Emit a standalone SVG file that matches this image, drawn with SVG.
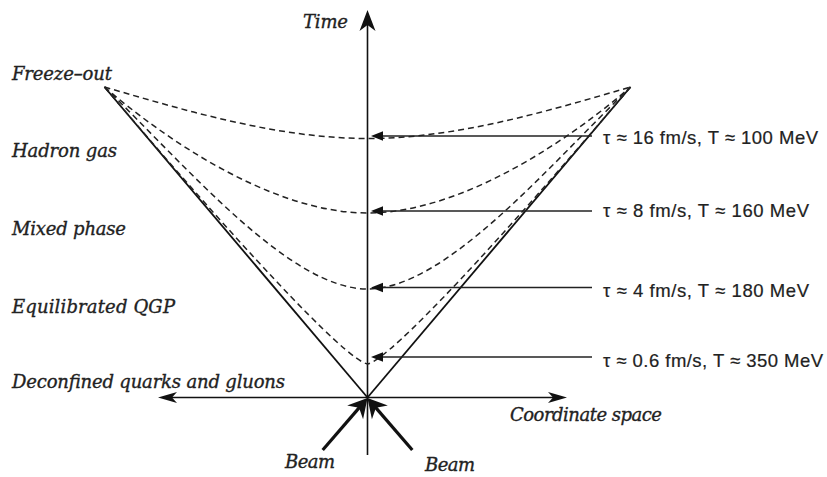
<svg xmlns="http://www.w3.org/2000/svg" width="827" height="477" viewBox="0 0 827 477">
<style>
.lbl{font-family:"DejaVu Serif","Liberation Serif",serif;font-style:italic;font-size:18px;fill:#222;stroke:#222;stroke-width:0.35}
.val{font-family:"Liberation Sans",Arial,sans-serif;font-size:18.5px;fill:#222;stroke:#222;stroke-width:0.2}
.ax{stroke:#111;stroke-width:1.6;fill:none}
.cone{stroke:#111;stroke-width:1.8;fill:none}
.dash{stroke:#222;stroke-width:1.5;fill:none;stroke-dasharray:6 4}
.tau{stroke:#222;stroke-width:1.6;fill:none;marker-end:url(#tri)}
.beam{stroke:#111;stroke-width:3.2;fill:none;marker-end:url(#bh)}
</style>
<defs>
<marker id="tri" markerUnits="userSpaceOnUse" orient="auto" markerWidth="30" markerHeight="30" refX="0" refY="0" viewBox="-15 -15 30 30" overflow="visible">
<path d="M7,0 L-5,-4.8 L-5,4.8 Z" fill="#111"/>
</marker>
<marker id="vh" markerUnits="userSpaceOnUse" orient="auto" markerWidth="40" markerHeight="40" refX="0" refY="0" viewBox="-20 -20 40 40" overflow="visible">
<path d="M14,0 L-7,-8 L-1,0 L-7,8 Z" fill="#111"/>
</marker>
<marker id="hh" markerUnits="userSpaceOnUse" orient="auto-start-reverse" markerWidth="40" markerHeight="40" refX="0" refY="0" viewBox="-20 -20 40 40" overflow="visible">
<path d="M12,0 L-7,-5.5 L-2,0 L-7,5.5 Z" fill="#111"/>
</marker>
<marker id="bh" markerUnits="userSpaceOnUse" orient="auto" markerWidth="50" markerHeight="50" refX="0" refY="0" viewBox="-25 -25 50 50" overflow="visible">
<path d="M10,0 L-9,-10.5 L-3,0 L-9,10.5 Z" fill="#111"/>
</marker>
</defs>
<rect width="827" height="477" fill="#fff"/>
<g id="connectors">
<line class="ax" x1="367.5" y1="455" x2="367.5" y2="24" marker-end="url(#vh)"/>
<line class="ax" x1="170" y1="397.5" x2="555" y2="397.5" marker-start="url(#hh)" marker-end="url(#hh)"/>
<line class="cone" x1="104.5" y1="87" x2="367.5" y2="397.5"/>
<line class="cone" x1="630.5" y1="87" x2="367.5" y2="397.5"/>
<path class="dash" d="M104.5,87 C190,112 280,138.5 367.5,138.5 C455,138.5 545,112 630.5,87"/>
<path class="dash" d="M104.5,87 C160,135 270,213 367.5,213 C465,213 575,135 630.5,87"/>
<path class="dash" d="M104.5,87 C190,170 290,289 367.5,289 C445,289 545,170 630.5,87"/>
<path class="dash" d="M104.5,87 C230,235 345,360 367.5,364 C390,360 505,235 630.5,87"/>
<line class="tau" x1="592" y1="136" x2="378" y2="136"/>
<line class="tau" x1="592" y1="211" x2="378" y2="211"/>
<line class="tau" x1="592" y1="287.5" x2="378" y2="287.5"/>
<line class="tau" x1="592" y1="357" x2="378" y2="357"/>
<line class="beam" x1="322.7" y1="450" x2="361" y2="405.6"/>
<line class="beam" x1="412.3" y1="450" x2="374" y2="405.6"/>
</g>
<g id="time"><text class="lbl" x="303" y="28" textLength="45">Time</text></g>
<g id="freeze-out"><text class="lbl" x="12" y="80" textLength="100">Freeze–out</text></g>
<g id="hadron-gas"><text class="lbl" x="12" y="157" textLength="105">Hadron gas</text></g>
<g id="mixed-phase"><text class="lbl" x="12" y="235" textLength="114">Mixed phase</text></g>
<g id="equilibrated-qgp"><text class="lbl" x="12" y="312.5" textLength="163">Equilibrated QGP</text></g>
<g id="deconfined"><text class="lbl" x="12" y="388" textLength="273">Deconfined quarks and gluons</text></g>
<g id="coordinate-space"><text class="lbl" x="510" y="421" textLength="152">Coordinate space</text></g>
<g id="beam-left"><text class="lbl" x="285" y="468" textLength="50">Beam</text></g>
<g id="beam-right"><text class="lbl" x="425" y="471" textLength="50">Beam</text></g>
<g id="tau16"><text class="val" x="603" y="144" textLength="215">τ ≈ 16 fm/s, T ≈ 100 MeV</text></g>
<g id="tau8"><text class="val" x="603" y="217" textLength="206">τ ≈ 8 fm/s, T ≈ 160 MeV</text></g>
<g id="tau4"><text class="val" x="603" y="296.5" textLength="206">τ ≈ 4 fm/s, T ≈ 180 MeV</text></g>
<g id="tau06"><text class="val" x="603" y="367" textLength="220">τ ≈ 0.6 fm/s, T ≈ 350 MeV</text></g>
</svg>
